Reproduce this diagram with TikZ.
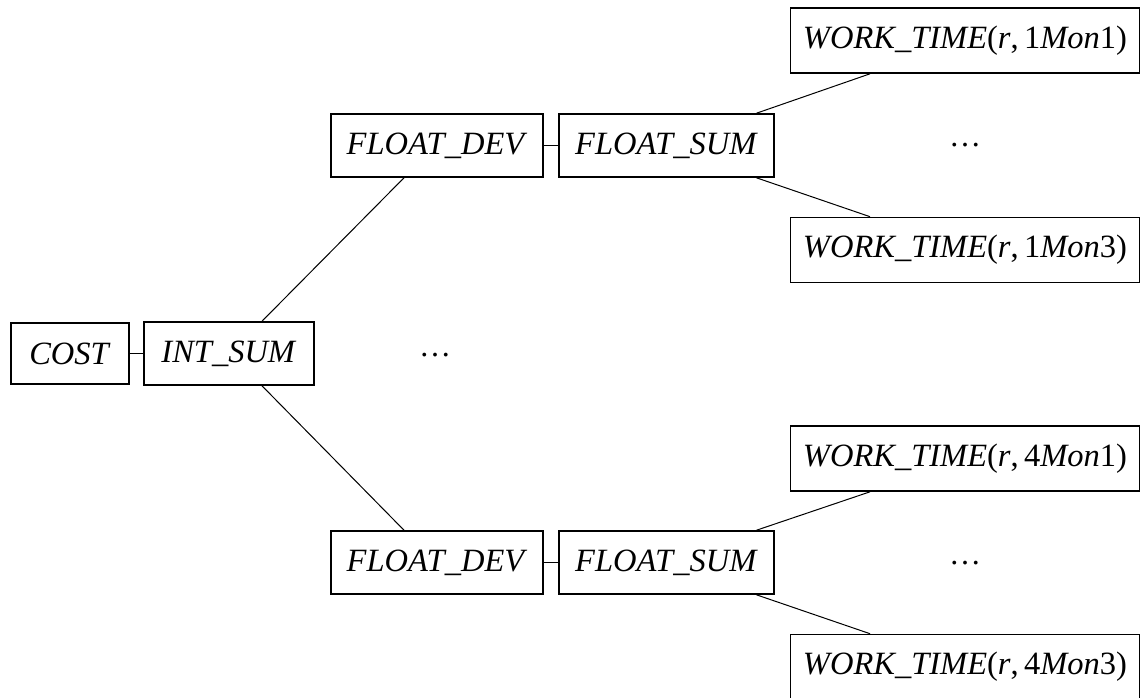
\documentclass[tikz,border=0pt]{standalone}
\usepackage{fontspec}
\setmainfont{Liberation Serif}
\begin{document}
\begin{tikzpicture}[x=1pt,y=-1pt,
  box/.style={draw, line width=1.6pt, inner sep=0pt, font=\fontsize{32.5}{36}\selectfont, minimum height=63pt},
  wbox/.style={box, minimum width=349pt, minimum height=65pt},
  link/.style={line width=1pt},
  dots/.style={font=\fontsize{32}{36}\selectfont, inner sep=0pt}]
\useasboundingbox (0,0) rectangle (1142,697);
\node[box, minimum width=118pt, minimum height=61pt] (cost) at (70,353.5) {\textit{COST}};
\node[box, minimum width=170pt] (int) at (229,353.5) {\textit{INT\_SUM}};
\node[box, minimum width=212pt] (fdt) at (437,145.5) {\textit{FLOAT\_DEV}};
\node[box, minimum width=215pt] (fst) at (666.5,145.5) {\textit{FLOAT\_SUM}};
\node[box, minimum width=212pt] (fdb) at (437,562.5) {\textit{FLOAT\_DEV}};
\node[box, minimum width=215pt] (fsb) at (666.5,562.5) {\textit{FLOAT\_SUM}};
\node[wbox] (w1) at (965,40.5) {\textit{WORK\_TIME}(\textit{r},\,1\textit{Mon}1)};
\node[wbox] (w3) at (965,250) {\textit{WORK\_TIME}(\textit{r},\,1\textit{Mon}3)};
\node[wbox] (w41) at (965,458.5) {\textit{WORK\_TIME}(\textit{r},\,4\textit{Mon}1)};
\node[wbox] (w43) at (965,667) {\textit{WORK\_TIME}(\textit{r},\,4\textit{Mon}3)};
\node[dots] (d1) at (965,145) {\ldots};
\node[dots] (d2) at (435,355) {\ldots};
\node[dots] (d3) at (965,563) {\ldots};
\draw[link] (cost) -- (int);
\draw[link] (fdt) -- (fst);
\draw[link] (fdb) -- (fsb);
\draw[link] ([xshift=33pt]int.north) -- ([xshift=-33pt]fdt.south);
\draw[link] ([xshift=33pt]int.south) -- ([xshift=-33pt]fdb.north);
\draw[link] ([xshift=90pt]fst.north) -- ([xshift=-95pt]w1.south);
\draw[link] ([xshift=90pt]fst.south) -- ([xshift=-95pt]w3.north);
\draw[link] ([xshift=90pt]fsb.north) -- ([xshift=-95pt]w41.south);
\draw[link] ([xshift=90pt]fsb.south) -- ([xshift=-95pt]w43.north);
\end{tikzpicture}
\end{document}
